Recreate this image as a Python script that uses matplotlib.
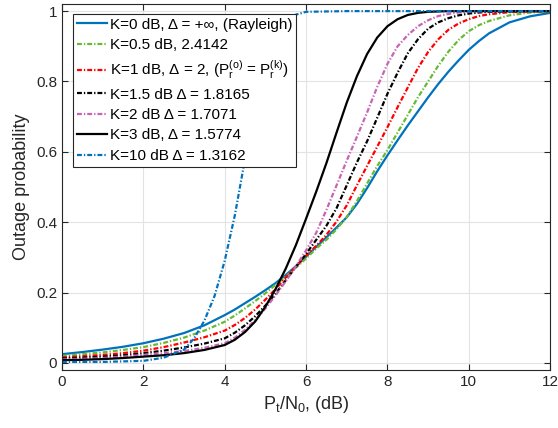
import numpy as np
import matplotlib
matplotlib.use("Agg")
import matplotlib.pyplot as plt

plt.rcParams['font.family'] = ['Liberation Sans', 'DejaVu Sans']
plt.rcParams['mathtext.fontset'] = 'custom'
plt.rcParams['mathtext.rm'] = 'Liberation Sans'
plt.rcParams['mathtext.it'] = 'Liberation Sans'
plt.rcParams['mathtext.bf'] = 'Liberation Sans:bold'

# common SNR grid (dB), finer where the curves bend
snr = [0, 0.5, 1, 1.5, 2, 2.5, 3, 3.5,
       4, 4.25, 4.5, 4.75, 5, 5.25, 5.5, 5.75, 6, 6.25, 6.5, 6.75, 7, 7.25, 7.5, 7.75,
       8, 8.25, 8.5, 8.75, 9, 9.25, 9.5, 9.75, 10, 10.25, 10.5,
       11, 11.5, 12]

k0 = [0.025, 0.031, 0.038, 0.046, 0.056, 0.069, 0.085, 0.107,
      0.136, 0.152, 0.17, 0.188, 0.207, 0.227, 0.25, 0.275, 0.302, 0.33, 0.357, 0.385,
      0.414, 0.452, 0.497, 0.545, 0.59, 0.633, 0.675, 0.715, 0.755, 0.793, 0.828, 0.86,
      0.89, 0.915, 0.937,
      0.968, 0.985, 0.995]
k05 = [0.02, 0.025, 0.03, 0.037, 0.045, 0.057, 0.072, 0.092,
       0.117, 0.135, 0.155, 0.176, 0.198, 0.222, 0.246, 0.271, 0.297, 0.325, 0.35, 0.38,
       0.415, 0.46, 0.51, 0.56, 0.605, 0.655, 0.705, 0.755, 0.8, 0.845, 0.885, 0.918,
       0.943, 0.96, 0.972,
       0.988, 0.996, 0.999]
k1 = [0.016, 0.019, 0.023, 0.028, 0.035, 0.045, 0.058, 0.073,
      0.092, 0.108, 0.128, 0.152, 0.18, 0.21, 0.243, 0.275, 0.305, 0.333, 0.364, 0.402,
      0.448, 0.505, 0.56, 0.615, 0.67, 0.727, 0.783, 0.838, 0.884, 0.92, 0.947, 0.965,
      0.977, 0.986, 0.991,
      0.997, 0.999, 1.0]
k15 = [0.013, 0.015, 0.018, 0.022, 0.028, 0.035, 0.044, 0.055,
       0.07, 0.086, 0.107, 0.133, 0.163, 0.197, 0.235, 0.273, 0.31, 0.35, 0.39, 0.44,
       0.505, 0.57, 0.63, 0.697, 0.765, 0.825, 0.88, 0.92, 0.95, 0.968, 0.98, 0.988,
       0.993, 0.996, 0.998,
       0.999, 1.0, 1.0]
k2 = [0.01, 0.012, 0.014, 0.018, 0.023, 0.028, 0.034, 0.043,
      0.056, 0.072, 0.094, 0.122, 0.155, 0.192, 0.232, 0.275, 0.32, 0.37, 0.435, 0.505,
      0.575, 0.643, 0.712, 0.785, 0.85, 0.9, 0.932, 0.957, 0.974, 0.986, 0.992, 0.996,
      0.998, 0.999, 1.0,
      1.0, 1.0, 1.0]
k3 = [0.008, 0.009, 0.011, 0.014, 0.018, 0.022, 0.028, 0.037,
      0.051, 0.066, 0.088, 0.118, 0.16, 0.21, 0.268, 0.335, 0.41, 0.487, 0.568, 0.655,
      0.74, 0.815, 0.878, 0.925, 0.957, 0.977, 0.989, 0.995, 0.998, 0.999, 1.0, 1.0,
      1.0, 1.0, 1.0,
      1.0, 1.0, 1.0]

# K=10 dB rises sharply, read on its own grid
snr10 = [0, 1, 2, 2.5, 3, 3.25, 3.5, 3.75, 4, 4.25, 4.5, 4.75, 5, 5.25, 5.5, 5.75, 6,
         7, 8, 9, 10, 11, 12]
k10 = [0.003, 0.003, 0.006, 0.015, 0.038, 0.07, 0.12, 0.19, 0.29, 0.42, 0.58, 0.72,
       0.84, 0.92, 0.965, 0.99, 0.998, 1.0, 1.0, 1.0, 1.0, 1.0, 1.0]

labels = [
    'K=0 dB, Δ = +∞, (Rayleigh)',
    'K=0.5 dB, 2.4142',
    r'K=1 dB, Δ = 2, (P$_\mathrm{r}^\mathrm{(o)}$ = P$_\mathrm{r}^\mathrm{(k)}$)',
    'K=1.5 dB Δ = 1.8165',
    'K=2 dB Δ = 1.7071',
    'K=3 dB, Δ = 1.5774',
    'K=10 dB Δ = 1.3162',
]

fig = plt.figure(figsize=(5.58, 4.28), dpi=100)
ax = fig.add_axes([0.111, 0.1355, 0.875, 0.855])

blue = '#0072bd'
lw = 1.6
dd = (0, (2.2, 0.9, 0.6, 0.9))  # short matlab-like dash-dot
ax.plot(snr, k0, color=blue, ls='-', lw=lw, label=labels[0])
ax.plot(snr, k05, color='#66bb33', ls=dd, lw=lw, label=labels[1])
ax.plot(snr, k1, color='#ff0000', ls=dd, lw=lw, label=labels[2])
ax.plot(snr, k15, color='black', ls=dd, lw=lw, label=labels[3])
ax.plot(snr, k2, color='#c864b4', ls=dd, lw=lw, label=labels[4])
ax.plot(snr, k3, color='black', ls='-', lw=lw, label=labels[5])
ax.plot(snr10, k10, color=blue, ls=dd, lw=lw, label=labels[6])

ax.set_xlim(0, 12)
ax.set_ylim(-0.02, 1.02)
ax.set_xticks(np.arange(0, 13, 2))
ax.set_yticks([0, 0.2, 0.4, 0.6, 0.8, 1])
ax.set_yticklabels(['0', '0.2', '0.4', '0.6', '0.8', '1'])

ax.grid(True, color='#e3e3e3', lw=0.8)
ax.set_axisbelow(True)
ax.tick_params(direction='in', top=True, right=True, labelsize=11,
               colors='#262626', length=4, width=0.8)
for s in ax.spines.values():
    s.set_color('#262626')
    s.set_linewidth(0.8)

ax.set_xlabel(r'P$_\mathrm{t}$/N$_\mathrm{0}$, (dB)', fontsize=13, color='#262626')
ax.set_ylabel('Outage probability', fontsize=13, color='#262626')

leg = ax.legend(loc='upper left', bbox_to_anchor=(0.0225, 0.973), fontsize=11,
                fancybox=False, framealpha=1, edgecolor='#262626',
                handlelength=2.0, handletextpad=0.15, labelspacing=0.42,
                borderpad=0.25, borderaxespad=0)
leg.get_frame().set_linewidth(0.8)

fig.savefig('out.png', dpi=100)
